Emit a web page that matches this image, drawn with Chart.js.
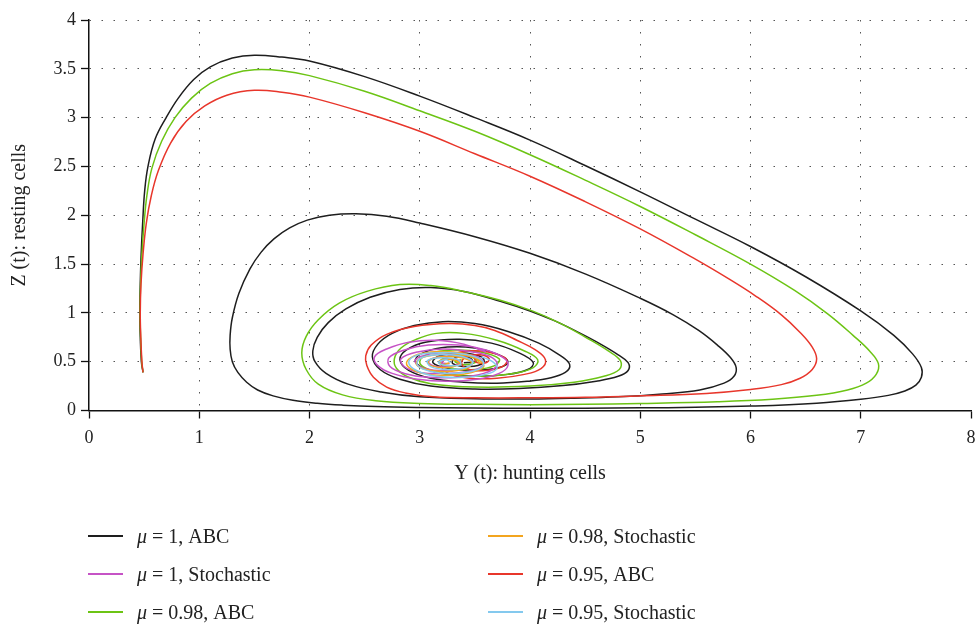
<!DOCTYPE html>
<html><head><meta charset="utf-8">
<script src="https://cdn.jsdelivr.net/npm/chart.js@4/dist/chart.umd.min.js"></script>
<style>
html,body{margin:0;padding:0;background:#fff;}
#wrap{position:absolute;left:0;top:0;width:979px;height:500px;}
#legend{position:absolute;left:0;top:0;width:979px;height:625px;pointer-events:none;font-family:"Liberation Serif","Times New Roman",serif;font-size:20px;color:#222;}
.item{position:absolute;display:flex;align-items:center;height:24px;white-space:nowrap;}
.swatch{width:35px;height:0;border-top:2px solid;margin-right:14px;}
</style></head>
<body>
<div id="wrap"><canvas id="c" width="979" height="500"></canvas></div>
<div id="legend"></div>
<script>
// ---- data (Y = hunting cells, Z = resting cells) ----
const xTicks = [0,1,2,3,4,5,6,7,8];
const yTicks = [0,0.5,1,1.5,2,2.5,3,3.5,4];

const blackAbc = [
[0.49,0.39],[0.475,0.5],[0.465,0.75],[0.46,1.0],[0.465,1.3],[0.473,1.6],[0.488,1.95],[0.505,2.25],[0.535,2.5],[0.6,2.78],[0.70,3.0],[0.81,3.2],[0.95,3.39],[1.1,3.52],[1.3,3.61],[1.5,3.64],[1.75,3.62],[2.0,3.58],[2.5,3.42],[3.0,3.22],[3.5,3.0],[4.0,2.77],[4.5,2.51],[5.0,2.24],[5.5,1.96],[6.0,1.68],[6.5,1.37],[7.0,1.02],[7.3,0.77],[7.47,0.58],[7.55,0.44],[7.55,0.34],[7.5,0.26],[7.4,0.2],[7.25,0.155],[7.0,0.115],[6.6,0.075],[6.0,0.045],[5.5,0.033],[5.0,0.027],[4.5,0.024],[4.0,0.023],[3.5,0.026],[3.0,0.031],[2.6,0.04],[2.3,0.055],[2.07,0.074],[1.85,0.105],[1.67,0.15],[1.53,0.21],[1.43,0.29],[1.35,0.39],[1.3,0.5],[1.28,0.63],[1.28,0.77],[1.3,0.95],[1.36,1.2],[1.46,1.45],[1.56,1.62],[1.68,1.76],[1.82,1.87],[1.98,1.95],[2.18,2.0],[2.42,2.015],[2.7,1.99],[3.0,1.92],[3.5,1.78],[4.0,1.61],[4.5,1.40],[5.0,1.15],[5.3,0.98],[5.53,0.82],[5.7,0.67],[5.82,0.54],[5.87,0.44],[5.85,0.35],[5.76,0.28],[5.54,0.21],[5.2,0.17],[4.8,0.14],[4.4,0.125],[4.0,0.117],[3.5,0.12],[3.0,0.14],[2.65,0.19],[2.35,0.27],[2.15,0.38],[2.05,0.5],[2.03,0.61],[2.07,0.75],[2.17,0.9],[2.33,1.04],[2.55,1.16],[2.82,1.24],[3.1,1.26],[3.4,1.22],[3.73,1.12],[4.0,1.02],[4.22,0.92],[4.44,0.8],[4.64,0.68],[4.8,0.57],[4.89,0.49],[4.89,0.41],[4.8,0.35],[4.6,0.3],[4.3,0.255],[3.9,0.225],[3.5,0.22],[3.1,0.25],[2.82,0.32],[2.64,0.42],[2.57,0.55],[2.62,0.68],[2.75,0.79],[2.95,0.87],[3.21,0.91],[3.5,0.89],[3.8,0.81],[4.08,0.69],[4.28,0.56],[4.36,0.47],[4.32,0.39],[4.17,0.33],[3.98,0.30],[3.7,0.28],[3.4,0.29],[3.1,0.33],[2.9,0.41],[2.82,0.52],[2.88,0.62],[3.05,0.7],[3.36,0.73],[3.65,0.69],[3.9,0.59],[4.03,0.49],[3.98,0.42],[3.8,0.37],[3.5,0.35],[3.22,0.38],[3.02,0.44],[2.96,0.52],[3.05,0.6],[3.25,0.65],[3.5,0.64],[3.72,0.57],[3.8,0.5],[3.72,0.44],[3.5,0.41],[3.27,0.43],[3.12,0.49],[3.18,0.56],[3.38,0.59],[3.56,0.55],[3.58,0.49],[3.45,0.45],[3.3,0.48],[3.32,0.54],[3.45,0.54],[3.48,0.5],[3.4,0.49]
];

const magentaStoch = [
[3.6,0.6],[3.4,0.68],[3.15,0.72],[2.9,0.7],[2.7,0.63],[2.59,0.55],[2.62,0.46],[2.75,0.38],[2.98,0.32],[3.25,0.3],[3.52,0.32],[3.72,0.38],[3.8,0.46],[3.76,0.54],[3.6,0.62],[3.35,0.67],[3.08,0.67],[2.86,0.62],[2.72,0.54],[2.73,0.45],[2.86,0.38],[3.08,0.34],[3.35,0.34],[3.58,0.38],[3.7,0.46],[3.66,0.54],[3.48,0.6],[3.22,0.63],[2.98,0.6],[2.83,0.53],[2.86,0.45],[3.0,0.39],[3.25,0.38],[3.48,0.41],[3.58,0.48],[3.52,0.55],[3.32,0.59],[3.1,0.58],[2.96,0.52],[3.0,0.45],[3.18,0.41],[3.4,0.43],[3.48,0.5],[3.38,0.55],[3.18,0.55],[3.08,0.5],[3.15,0.45],[3.32,0.46],[3.36,0.51],[3.24,0.53],[3.2,0.49],[3.27,0.48]
];

const greenAbc = [
[0.49,0.39],[0.478,0.5],[0.468,0.75],[0.463,1.0],[0.468,1.3],[0.48,1.6],[0.5,1.92],[0.525,2.2],[0.57,2.48],[0.66,2.76],[0.78,3.0],[0.93,3.2],[1.1,3.35],[1.3,3.45],[1.5,3.49],[1.75,3.48],[2.0,3.43],[2.5,3.27],[3.0,3.07],[3.5,2.86],[4.0,2.62],[4.5,2.36],[5.0,2.09],[5.5,1.8],[6.0,1.5],[6.4,1.23],[6.7,0.99],[6.93,0.77],[7.08,0.61],[7.16,0.48],[7.14,0.37],[7.05,0.28],[6.88,0.21],[6.6,0.155],[6.2,0.115],[5.7,0.09],[5.0,0.072],[4.5,0.064],[4.0,0.06],[3.5,0.063],[3.0,0.072],[2.6,0.1],[2.3,0.16],[2.08,0.27],[1.97,0.42],[1.93,0.59],[1.97,0.76],[2.08,0.93],[2.27,1.1],[2.52,1.22],[2.82,1.29],[3.1,1.28],[3.4,1.22],[3.73,1.13],[4.02,1.02],[4.28,0.89],[4.52,0.74],[4.71,0.61],[4.82,0.51],[4.81,0.42],[4.67,0.35],[4.4,0.29],[4.0,0.25],[3.5,0.24],[3.1,0.275],[2.9,0.34],[2.79,0.43],[2.77,0.53],[2.83,0.64],[2.97,0.73],[3.15,0.79],[3.4,0.79],[3.7,0.72],[3.95,0.61],[4.07,0.52],[4.03,0.44],[3.85,0.38],[3.55,0.35],[3.25,0.37],[3.06,0.43],[3.0,0.5],[3.08,0.58],[3.3,0.62],[3.55,0.6],[3.72,0.53],[3.68,0.46],[3.5,0.42],[3.3,0.43],[3.18,0.49],[3.25,0.55],[3.42,0.56],[3.52,0.51],[3.42,0.47],[3.32,0.5],[3.38,0.52]
];

const orangeStoch = [
[3.55,0.48],[3.48,0.56],[3.3,0.6],[3.1,0.6],[2.95,0.56],[2.88,0.49],[2.93,0.42],[3.08,0.37],[3.28,0.36],[3.47,0.39],[3.58,0.45],[3.52,0.53],[3.35,0.57],[3.15,0.57],[3.0,0.53],[2.97,0.47],[3.06,0.42],[3.24,0.4],[3.42,0.43],[3.47,0.49],[3.38,0.54],[3.2,0.55],[3.08,0.51],[3.1,0.46],[3.25,0.44],[3.36,0.48],[3.3,0.52],[3.18,0.51],[3.2,0.47],[3.27,0.49]
];

const redAbc = [
[0.49,0.39],[0.48,0.5],[0.47,0.75],[0.465,1.0],[0.472,1.3],[0.49,1.6],[0.52,1.92],[0.565,2.2],[0.63,2.46],[0.74,2.74],[0.88,2.96],[1.05,3.12],[1.25,3.23],[1.5,3.28],[1.75,3.26],[2.0,3.21],[2.5,3.05],[3.0,2.86],[3.5,2.63],[4.0,2.40],[4.5,2.14],[5.0,1.86],[5.5,1.55],[5.8,1.35],[6.05,1.17],[6.28,0.98],[6.45,0.8],[6.56,0.65],[6.6,0.53],[6.56,0.42],[6.45,0.33],[6.28,0.265],[6.0,0.215],[5.6,0.175],[5.0,0.15],[4.5,0.135],[4.0,0.13],[3.5,0.13],[3.12,0.14],[2.87,0.18],[2.7,0.24],[2.58,0.34],[2.52,0.46],[2.51,0.56],[2.56,0.67],[2.7,0.78],[2.95,0.86],[3.27,0.89],[3.5,0.87],[3.68,0.82],[3.88,0.72],[4.05,0.62],[4.14,0.52],[4.1,0.43],[3.95,0.37],[3.7,0.33],[3.45,0.33],[3.28,0.37],[3.2,0.44],[3.22,0.52],[3.3,0.58],[3.45,0.61],[3.62,0.6],[3.76,0.55],[3.79,0.5],[3.73,0.44],[3.6,0.41],[3.45,0.42],[3.38,0.48],[3.42,0.55],[3.55,0.57],[3.63,0.53],[3.6,0.49],[3.52,0.49],[3.5,0.53],[3.55,0.53]
];

const cyanStoch = [
[3.56,0.55],[3.66,0.5],[3.7,0.43],[3.6,0.37],[3.4,0.34],[3.15,0.35],[2.97,0.41],[2.9,0.49],[2.96,0.56],[3.12,0.59],[3.32,0.59],[3.5,0.55],[3.58,0.48],[3.5,0.41],[3.3,0.38],[3.1,0.4],[2.98,0.46],[3.0,0.53],[3.15,0.57],[3.35,0.56],[3.48,0.5],[3.42,0.44],[3.25,0.42],[3.1,0.45],[3.07,0.51],[3.2,0.54],[3.35,0.52],[3.37,0.47],[3.25,0.46],[3.17,0.49],[3.24,0.52],[3.28,0.49]
];

const seriesLabels = ['μ = 1, ABC','μ = 1, Stochastic','μ = 0.98, ABC','μ = 0.98, Stochastic','μ = 0.95, ABC','μ = 0.95, Stochastic'];
const seriesColors = ['#1e1e1e','#c653c6','#6cc414','#f3a51f','#e8362b','#84c9ee'];
const seriesData = [blackAbc, magentaStoch, greenAbc, orangeStoch, redAbc, cyanStoch];
const drawOrder = [6,3,5,2,4,1];

const FONT = '"Liberation Serif","Times New Roman",serif';

const datasets = seriesData.map((arr,i)=>({
  label: seriesLabels[i],
  data: arr.map(p=>({x:p[0],y:p[1]})),
  borderColor: seriesColors[i],
  backgroundColor: seriesColors[i],
  borderWidth: 1.5,
  showLine: true,
  pointRadius: 0,
  pointHoverRadius: 0,
  tension: 0.4,
  fill: false,
  order: drawOrder[i]
}));

const chart = new Chart(document.getElementById('c'), {
  type: 'scatter',
  data: { datasets },
  options: {
    responsive: false,
    animation: false,
    layout: { padding: { top: 20, right: 8, left: 0, bottom: 0 } },
    plugins: { legend: { display: false }, tooltip: { enabled: false } },
    scales: {
      x: {
        type: 'linear', min: 0, max: 8,
        afterBuildTicks: s => { s.ticks = xTicks.map(v=>({value:v})); },
        afterFit: s => { s.height = 89.5; s.paddingLeft = 0; s.paddingRight = 0; },
        ticks: { font: { family: FONT, size: 18 }, color: '#222', padding: 9, callback: v => String(v) },
        grid: {
          color: c => (c.tick && (c.tick.value === 0 || c.tick.value === 8)) ? 'rgba(0,0,0,0)' : '#555',
          lineWidth: 1, tickLength: 8, tickColor: '#111', tickWidth: 1.3
        },
        border: { display: true, color: '#111', width: 1.5, dash: [1.5, 10.5] },
        title: { display: true, text: 'Y (t): hunting cells', font: { family: FONT, size: 20 }, color: '#222', padding: { top: 0, bottom: 14 } }
      },
      y: {
        type: 'linear', min: 0, max: 4,
        afterBuildTicks: s => { s.ticks = yTicks.map(v=>({value:v})); },
        afterFit: s => { s.width = 89; s.paddingTop = 0; s.paddingBottom = 0; },
        ticks: { font: { family: FONT, size: 18 }, color: '#222', padding: 5, callback: v => String(v) },
        grid: {
          color: c => (c.tick && c.tick.value === 0) ? 'rgba(0,0,0,0)' : '#555',
          lineWidth: 1, tickLength: 8, tickColor: '#111', tickWidth: 1.3
        },
        border: { display: true, color: '#111', width: 1.5, dash: [1.5, 10.5] },
        title: { display: true, text: 'Z (t): resting cells', font: { family: FONT, size: 20 }, color: '#222', padding: { top: 8, bottom: 0 } }
      }
    }
  }
});

// HTML legend (two columns, column-major), built from the chart's datasets
const legendPos = [[88,536],[88,574],[88,612],[488,536],[488,574],[488,612]];
const lg = document.getElementById('legend');
chart.data.datasets.forEach((ds,i)=>{
  const d = document.createElement('div');
  d.className = 'item';
  d.style.left = legendPos[i][0] + 'px';
  d.style.top = (legendPos[i][1] - 12) + 'px';
  const sw = document.createElement('span');
  sw.className = 'swatch';
  sw.style.borderTopColor = ds.borderColor;
  const tx = document.createElement('span');
  const it = document.createElement('i'); it.textContent = ds.label.slice(0,1);
  tx.appendChild(it);
  tx.appendChild(document.createTextNode(ds.label.slice(1)));
  d.appendChild(sw); d.appendChild(tx);
  lg.appendChild(d);
});
</script>
</body></html>
